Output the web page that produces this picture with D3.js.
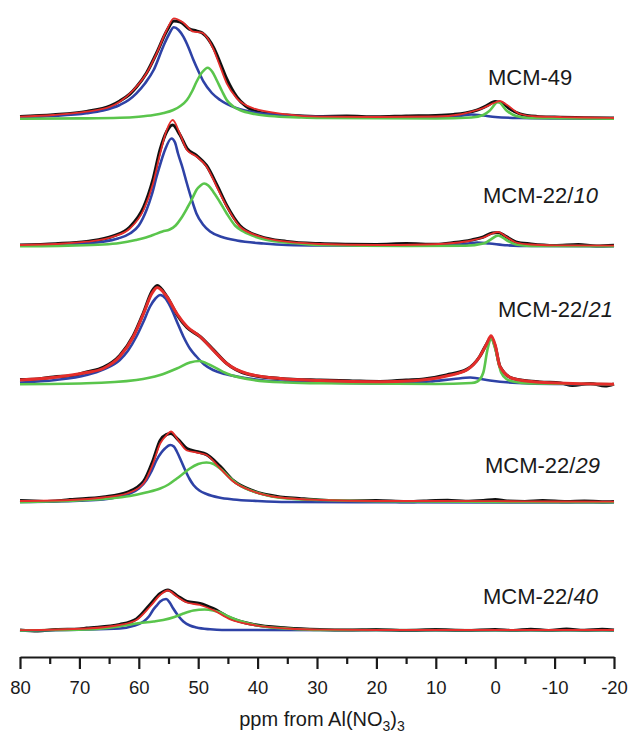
<!DOCTYPE html>
<html><head><meta charset="utf-8">
<script src="https://cdn.jsdelivr.net/npm/d3@7"></script>
<style>body{margin:0;background:#fff}svg{display:block}text{font-family:"Liberation Sans",Arial,Helvetica,sans-serif;fill:#1a1a1a}</style>
</head><body><svg id="c" width="632" height="733"></svg>
<script>
// ---- data: [ppm, intensity] ----
const sampleNames = ["MCM-49", "MCM-22/10", "MCM-22/21", "MCM-22/29", "MCM-22/40"];
const offsets = [538, 410.5, 272.5, 154.5, 26.5];
const xTicks = [80, 70, 60, 50, 40, 30, 20, 10, 0, -10, -20];
const xMinorTicks = [75, 65, 55, 45, 35, 25, 15, 5, -5, -15];

const mcm49_exp = [[80,2.5],[74.4,4.2],[68.8,7.5],[64.8,13],[63.2,18],[61.5,25],[60.4,32],[58.7,46],[57,66],[55.3,88],[54.1,98],[53,97],[51.5,90],[50.3,88],[49.3,86],[48.3,80],[47.3,70],[46.3,56],[45.2,40],[43.5,22],[42,13],[40.7,8.5],[38,5],[35.1,4],[29.5,2.5],[25,2.8],[20,2.2],[15,3],[10,3.5],[7,4.5],[5,6],[3,9],[1.5,13],[0,17.5],[-1.2,16],[-2.5,10],[-4.2,5],[-7,2.5],[-10,1.8],[-15,1.2],[-20,1]];
const mcm49_fit = [[80,2.3],[74.4,4],[68.8,7.3],[64.8,12.3],[63.2,17.3],[60.9,29],[58.7,45.7],[57,65.7],[55.3,89],[54.1,100.7],[52.5,96.3],[50.8,87.3],[49.4,86.3],[48.6,82.3],[47.5,70.7],[46.3,52.3],[45.2,35.7],[43.5,20.7],[40.7,10.7],[35.1,4.7],[29.5,2.3],[20,2],[10,2.5],[6,4.5],[4.2,7],[2,11],[0,16.5],[-0.8,18],[-2,14],[-4.2,5],[-7,2.5],[-10.9,2],[-15,1.5],[-20,1]];
const mcm49_blue = [[80,1.7],[74.4,3],[68.8,5.7],[66,8.5],[63.2,14],[61.7,19],[60.4,25.7],[58.9,36],[57.5,49],[55.9,72.3],[54.9,85],[54.1,91.7],[53.3,89],[52.5,82.3],[51.6,71],[50.8,59],[49.9,47],[49.1,37.3],[47.7,26],[46.3,19],[43.5,10.7],[40.5,6.5],[37.9,4.7],[33,3],[29.5,2.3],[20,1.7],[10,1.8],[6,3],[4,4.5],[2,3.5],[0,2],[-4,1],[-10,0.6],[-20,0.4]];
const mcm49_green = [[80,0.3],[70,0.6],[63.2,1.2],[60,2.3],[57.5,4],[55.8,6],[54.2,9],[53,13],[51.9,19],[51,28],[50.3,37],[49.3,47],[48.4,51.3],[47.6,47],[46.9,39],[46,28],[45.2,19],[44.1,12.5],[43,9],[40.5,5],[37.9,3],[33,1.6],[29.5,1],[10,0.5],[4,1.5],[2,4],[1,8],[-0.5,17],[-2,8],[-3.5,3],[-6,1],[-20,0.3]];

const mcm10_exp = [[80,1.5],[74,2.7],[68.8,5],[64.3,10.5],[61.5,19.5],[59.2,39],[57.6,67],[56.4,97],[55.3,115],[54.3,121.5],[53.1,112],[51.9,98],[50.3,91],[48.6,81],[46.9,62],[45.2,41],[43,21],[39.6,10],[35.1,5],[29.5,2.8],[25,2.2],[20,2],[15,2.8],[10,2.2],[7,3.8],[4,6.5],[2,9.5],[0.5,13.5],[-0.5,14],[-1.8,10],[-3.5,4.5],[-6,2.5],[-10,1],[-14,2],[-17,0.5],[-20,1.2]];
const mcm10_fit = [[80,1.5],[74,2.5],[68.8,4.8],[64.3,9.8],[61.5,18],[59.2,36.5],[57.6,63],[56.4,93],[55.3,116.5],[54.3,126.5],[53.1,113],[51.9,96.5],[50.3,90],[48.6,80],[46.9,60],[45.2,40],[43,20],[39.6,10],[35.1,4.8],[29.5,2.5],[20,1.5],[12,2],[7,3.5],[4,6],[2,9],[0.5,13],[-0.5,14.5],[-1.8,10],[-3.5,4],[-6,2],[-10,1.2],[-20,0.8]];
const mcm10_blue = [[80,1],[74,1.8],[69,3.2],[66,4.8],[63.5,8],[61.5,13],[60,21],[58.7,36.5],[57.8,52],[57,70],[56.2,86],[55.6,96.5],[54.5,108],[53.9,104],[53.4,93],[52.6,78],[51.9,63],[51.1,47],[50.3,33],[49.2,22],[48,15],[46,9.5],[43.5,6],[39,3],[35.1,1.5],[29.5,1],[10,0.8],[5,2.5],[3,4],[1,3],[-2,1.2],[-6,0.5],[-20,0.3]];
const mcm10_green = [[80,0.3],[72,0.9],[66,2],[63.2,3.5],[60.5,6.5],[58.8,9],[57.6,11.5],[56,15],[54.8,17],[53.8,21],[52.9,28],[51.9,38],[51,48],[50.3,56.5],[49.6,61],[49,63],[48.3,61],[47.5,55],[46.4,45],[45.2,33],[43.8,21],[42.4,15],[40,9],[37.9,6],[33,3],[29.5,1.5],[15,0.6],[5,0.8],[2,3],[1,6],[-0.5,11],[-2,6],[-3.5,2],[-6,0.6],[-20,0.3]];

const mcm21_exp = [[80,5],[77,5.5],[74.4,7.5],[71,9],[68.8,12.5],[66,17],[63.2,29],[60.9,49],[59.2,72],[57.8,93],[56.9,99],[55.3,88],[53.6,70],[51.9,57],[49.7,48],[47.5,35],[45.2,21],[41.8,10.5],[36.2,6],[29.5,4.3],[24,3.5],[19.4,3],[15,4.5],[12,5.5],[8.2,9.5],[4.8,15],[2.6,28],[1.4,41],[0.7,47],[0,38],[-0.8,18],[-3,6],[-7.5,2.5],[-11,1.5],[-13,-1],[-16,1],[-18.5,-1.5],[-20,0.5]];
const mcm21_fit = [[80,4.5],[74.4,7],[68.8,12],[66,16],[63.2,28],[60.9,48],[59.2,71],[57.8,91],[56.9,97],[55.3,88],[53.6,71],[51.9,58],[49.7,48],[47.5,34.5],[45.2,21],[41.8,11],[36.2,6],[29.5,4],[19.4,2.8],[13.8,3.8],[8.2,8.5],[4.8,14.5],[2.6,28],[1.4,41],[0.7,48.8],[0,39.5],[-0.8,18],[-3,6],[-7.5,2.2],[-13,1],[-20,0.3]];
const mcm21_blue = [[80,2],[74,4.5],[68.8,9.5],[66,15],[63.2,24.5],[61.8,34],[60.4,48],[59.2,63],[58.1,78],[57.2,86],[56.4,89.5],[55.5,86],[54.7,78],[53.6,63],[52.5,48],[51.4,36],[50.3,28],[49,20],[47.5,14.5],[45.5,10.5],[43.5,8],[40.5,5.2],[37.9,3.5],[29.5,2],[19,1],[11,3],[7,5.5],[4.2,7],[0.9,4],[-3.7,1.5],[-10,0.5],[-20,0.2]];
const mcm21_green = [[80,0.3],[68.8,1.2],[60.4,4.5],[56.4,9.5],[53.6,16],[51.4,22],[49.8,23.5],[48,19.5],[45.2,11],[40.7,4.5],[35,2],[29.5,1.2],[10,0.5],[4,1.5],[3,3],[2,12],[1.3,35],[0.7,46],[0,36],[-1,12],[-2,5],[-3,3],[-6,1],[-20,0.3]];

const mcm29_exp = [[80,1.8],[76,1],[73,2],[71.6,2.8],[66,5.5],[62,10],[59.2,21],[57.6,42],[56.4,62],[55.3,68],[54.6,69],[53.4,63],[51.9,54],[50.3,51],[48.6,48],[46.3,36],[44.1,22],[40.7,11.5],[36.2,5.5],[33,4],[29.5,2.5],[25,1.5],[20,1.8],[15,0.8],[12,1.5],[8,2.2],[5,1.2],[2,2],[0,3],[-2,1.5],[-5,1],[-8,1.8],[-12,0.8],[-15,1.5],[-18,0.6],[-20,1]];
const mcm29_fit = [[80,1.5],[71.6,2.5],[66,5],[62,9],[59.2,19],[57.6,39],[56.4,59],[55.3,67.5],[54.6,71],[53.4,62.5],[51.9,52],[50.3,50],[48.6,47.5],[46.3,34],[44.1,21],[40.7,11],[36.2,5],[29.5,2.5],[20,1.5],[10,1.5],[0,1.3],[-10,1],[-20,0.8]];
const mcm29_blue = [[80,0.5],[70,1.8],[66,3],[63.5,5.5],[61.5,9],[60,14],[58.7,22.5],[57.8,32],[57,42.5],[56.2,50],[55.6,54],[54.7,57.5],[54.1,56],[53.6,51],[52.9,42],[52.2,32.5],[51.5,24],[50.8,17.5],[49.8,12],[48.6,8.5],[46.5,5],[44.1,3],[40,1.5],[35,0.5],[20,0.3],[-20,0]];
const mcm29_green = [[80,0.3],[74,1.2],[68.8,2.5],[65,4],[61.5,6.5],[58.8,10],[56.4,14],[55,18],[53.6,24],[52.5,29],[51.4,34],[50,38.5],[48.6,40],[47.4,38.5],[46.3,34],[44.9,26],[43.5,19],[42,14],[40.7,11],[38,6.5],[35.1,4],[29.5,2.5],[20,1.2],[0,0.6],[-20,0.3]];

const mcm40_exp = [[80,0.5],[77,-0.5],[74,1],[70,1.5],[68.8,2.3],[63.2,6],[60.4,11.5],[58.1,26],[56.4,37],[55.1,40.5],[53.6,35],[51.9,29],[49.7,27],[47.5,22],[44.6,12.5],[40.7,6],[35,2.5],[29.5,1],[25,0.5],[20,1],[15,0],[10,0.8],[5,0],[0,1],[-3,0],[-6,1.2],[-9,0],[-12,1.3],[-15,0.2],[-18,1.2],[-20,0.5]];
const mcm40_fit = [[80,0.3],[68.8,2],[63.2,5.5],[60.4,10.5],[58.1,24],[56.4,35.5],[55.1,40],[53.6,34],[51.9,28],[49.7,25.5],[47.5,20.5],[44.6,11],[40.7,5.5],[35,2],[29.5,0.8],[20,0.5],[0,0.5],[-20,0.5]];
const mcm40_blue = [[80,0],[70,0.8],[63.2,2],[61,4.5],[59.2,9],[58.3,14],[57.6,20.5],[56.9,25.5],[56.4,29],[55.4,31.5],[54.8,28],[54.2,22],[53.4,15],[52.5,9],[51.4,5],[50.3,3],[48,1.2],[46,0.5],[-20,0]];
const mcm40_green = [[80,0],[74,0.5],[68.8,1],[64,3.5],[60.4,7],[57.5,9],[55.9,10.5],[54,13.5],[52.5,17],[50.8,20],[48.9,21],[47.5,20],[46.3,18],[44.9,14],[43.5,10.5],[41.5,7],[39.6,4.5],[35,2],[29.5,0.5],[-20,0.2]];

const spectra = [
  {exp: mcm49_exp, fit: mcm49_fit, blue: mcm49_blue, green: mcm49_green},
  {exp: mcm10_exp, fit: mcm10_fit, blue: mcm10_blue, green: mcm10_green},
  {exp: mcm21_exp, fit: mcm21_fit, blue: mcm21_blue, green: mcm21_green},
  {exp: mcm29_exp, fit: mcm29_fit, blue: mcm29_blue, green: mcm29_green},
  {exp: mcm40_exp, fit: mcm40_fit, blue: mcm40_blue, green: mcm40_green}
];

// ---- layout ----
const svg = d3.select("#c");
const x = d3.scaleLinear().domain([80, -20]).range([20, 614]);
const y = d3.scaleLinear().domain([0, 657]).range([657, 0]);

const labelPos = [[488, 85], [483, 203], [498, 317], [485, 473], [483, 604]];
const redWidth = [1.8, 1.8, 3, 1.8, 1.8];

spectra.forEach((s, i) => {
  const off = offsets[i];
  const line = d3.line().x(d => x(d[0])).y(d => y(d[1] + off)).curve(d3.curveMonotoneX);
  const g = svg.append("g");
  g.append("path").attr("d", line(s.exp)).attr("fill", "none").attr("stroke", "#111").attr("stroke-width", 3.2).attr("stroke-linejoin", "round");
  g.append("path").attr("d", line(s.blue)).attr("fill", "none").attr("stroke", "#2e42a6").attr("stroke-width", 2.6).attr("stroke-linejoin", "round");
  g.append("path").attr("d", line(s.green)).attr("fill", "none").attr("stroke", "#5ac54c").attr("stroke-width", 2.6).attr("stroke-linejoin", "round");
  g.append("path").attr("d", line(s.fit)).attr("fill", "none").attr("stroke", "#e42d2a").attr("stroke-width", redWidth[i]).attr("stroke-linejoin", "round");

  const name = sampleNames[i];
  const t = svg.append("text").attr("x", labelPos[i][0]).attr("y", labelPos[i][1]).attr("font-size", 22);
  const slash = name.indexOf("/");
  if (slash < 0) {
    t.text(name);
  } else {
    t.append("tspan").text(name.slice(0, slash + 1));
    t.append("tspan").attr("font-style", "italic").text(name.slice(slash + 1));
  }
});

// ---- axis ----
const axG = svg.append("g").attr("transform", "translate(0,657)");
axG.call(d3.axisBottom(x).tickValues(xTicks).tickSize(12).tickPadding(12).tickSizeOuter(0).tickFormat(d => d));
axG.select(".domain").attr("stroke", "#1a1a1a").attr("stroke-width", 2.2);
axG.selectAll(".tick line").attr("stroke", "#1a1a1a").attr("stroke-width", 2.2);
axG.selectAll(".tick text").attr("font-size", 18.5).attr("fill", "#1a1a1a").style("font-family", '"Liberation Sans",Arial,sans-serif');
const minG = svg.append("g").attr("transform", "translate(0,657)");
minG.call(d3.axisBottom(x).tickValues(xMinorTicks).tickSize(7).tickFormat(""));
minG.select(".domain").remove();
minG.selectAll(".tick line").attr("stroke", "#1a1a1a").attr("stroke-width", 2.2);

const title = svg.append("text").attr("x", 322).attr("y", 726).attr("text-anchor", "middle").attr("font-size", 20);
title.append("tspan").text("ppm from Al(NO");
title.append("tspan").attr("font-size", 14).attr("dy", 5).text("3");
title.append("tspan").attr("dy", -5).text(")");
title.append("tspan").attr("font-size", 14).attr("dy", 5).text("3");
</script></body></html>
